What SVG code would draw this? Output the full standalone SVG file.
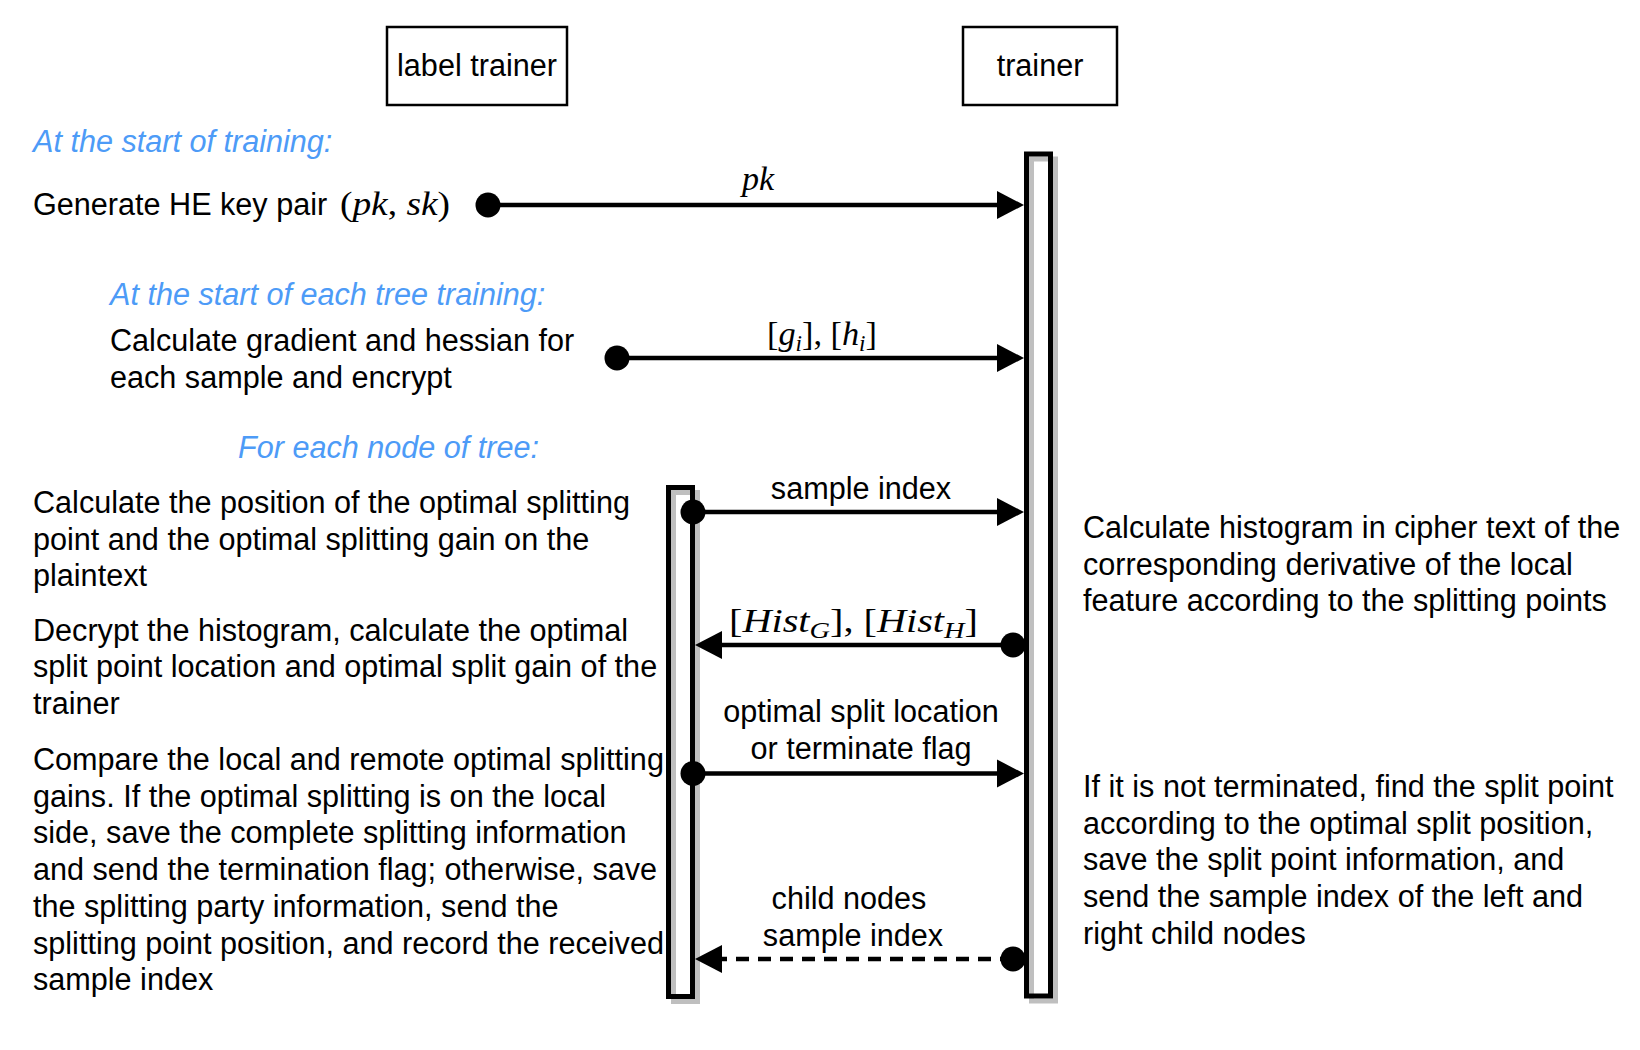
<svg xmlns="http://www.w3.org/2000/svg" width="1640" height="1050" viewBox="0 0 1640 1050">
<style>
  .t { font-family: "Liberation Sans", Arial, sans-serif; font-size: 30.6px; fill: #000; }
  .blue { font-family: "Liberation Sans", Arial, sans-serif; font-size: 30.6px; fill: #4D9BF7; font-style: italic; }
  .m { font-family: "Liberation Serif", "Times New Roman", serif; font-size: 34px; fill: #000; }
  .mi { font-style: italic; }
  .actor { fill: #fff; stroke: #000; stroke-width: 2.5; }
  .act { fill: none; stroke: #000; stroke-width: 5; }
  .shadow { fill: none; stroke: #bfbfbf; stroke-width: 5; }
  .msg { stroke: #000; stroke-width: 4.5; fill: none; marker-start: url(#dot); marker-end: url(#arrow); }
  .dash { stroke-dasharray: 13 9; }
</style>
<defs>
  <marker id="arrow" markerUnits="userSpaceOnUse" markerWidth="30" markerHeight="30" viewBox="0 0 30 30" refX="2" refY="15" orient="auto" overflow="visible">
    <path d="M0,1 L27,15 L0,29 z" fill="#000"/>
  </marker>
  <marker id="dot" markerUnits="userSpaceOnUse" markerWidth="26" markerHeight="26" viewBox="0 0 26 26" refX="13" refY="13" orient="auto" overflow="visible">
    <circle cx="13" cy="13" r="12.5" fill="#000"/>
  </marker>
</defs>
<rect width="1640" height="1050" fill="#fff"/>

<g id="actor-label-trainer">
  <rect class="actor" x="387" y="27" width="180" height="78"/>
  <text class="t" x="477" y="76" text-anchor="middle">label trainer</text>
</g>
<g id="actor-trainer">
  <rect class="actor" x="963" y="27" width="154" height="78"/>
  <text class="t" x="1040" y="76" text-anchor="middle">trainer</text>
</g>

<g id="lifeline-trainer">
  <rect class="shadow" x="1031.5" y="159" width="24" height="842"/>
  <rect class="act" x="1026.5" y="154" width="24" height="842"/>
</g>
<g id="lifeline-label-trainer">
  <rect class="shadow" x="673.5" y="492.5" width="24" height="509"/>
  <rect class="act" x="668.5" y="487.5" width="24" height="509"/>
</g>

<g id="notes-left">
  <text class="blue" x="33" y="152">At the start of training:</text>
  <text class="t" x="33" y="215">Generate HE key pair</text>
  <text class="m" x="340" y="215" font-size="37" textLength="110" lengthAdjust="spacingAndGlyphs">(<tspan class="mi">pk</tspan>, <tspan class="mi">sk</tspan>)</text>
  <text class="blue" x="110" y="305">At the start of each tree training:</text>
  <text class="t" x="110" y="351">Calculate gradient and hessian for</text>
  <text class="t" x="110" y="388">each sample and encrypt</text>
  <text class="blue" x="238" y="458">For each node of tree:</text>
  <text class="t" x="33" y="513">Calculate the position of the optimal splitting</text>
  <text class="t" x="33" y="549.7">point and the optimal splitting gain on the</text>
  <text class="t" x="33" y="586.4">plaintext</text>
  <text class="t" x="33" y="640.7">Decrypt the histogram, calculate the optimal</text>
  <text class="t" x="33" y="677.4">split point location and optimal split gain of the</text>
  <text class="t" x="33" y="714">trainer</text>
  <text class="t" x="33" y="770">Compare the local and remote optimal splitting</text>
  <text class="t" x="33" y="806.7">gains. If the optimal splitting is on the local</text>
  <text class="t" x="33" y="843.4">side, save the complete splitting information</text>
  <text class="t" x="33" y="880.1">and send the termination flag; otherwise, save</text>
  <text class="t" x="33" y="916.8">the splitting party information, send the</text>
  <text class="t" x="33" y="953.5">splitting point position, and record the received</text>
  <text class="t" x="33" y="990.2">sample index</text>
</g>

<g id="notes-right">
  <text class="t" x="1083" y="538">Calculate histogram in cipher text of the</text>
  <text class="t" x="1083" y="574.7">corresponding derivative of the local</text>
  <text class="t" x="1083" y="611.4">feature according to the splitting points</text>
  <text class="t" x="1083" y="797">If it is not terminated, find the split point</text>
  <text class="t" x="1083" y="833.7">according to the optimal split position,</text>
  <text class="t" x="1083" y="870.4">save the split point information, and</text>
  <text class="t" x="1083" y="907.1">send the sample index of the left and</text>
  <text class="t" x="1083" y="943.8">right child nodes</text>
</g>

<g id="connectors">
  <line class="msg" x1="488" y1="205" x2="999" y2="205"/>
  <line class="msg" x1="617" y1="358" x2="999" y2="358"/>
  <line class="msg" x1="693" y1="512" x2="999" y2="512"/>
  <line class="msg" x1="1013" y1="645" x2="720" y2="645"/>
  <line class="msg" x1="693" y1="773.5" x2="999" y2="773.5"/>
  <line class="msg dash" x1="1013" y1="959" x2="720" y2="959"/>
</g>

<g id="connector-labels">
  <text class="m mi" x="758" y="190" text-anchor="middle" font-size="37">pk</text>
  <text class="m" x="767" y="345" textLength="110" lengthAdjust="spacingAndGlyphs">[<tspan class="mi">g</tspan><tspan class="mi" font-size="23" dy="6">i</tspan><tspan dy="-6">], [</tspan><tspan class="mi">h</tspan><tspan class="mi" font-size="23" dy="6">i</tspan><tspan dy="-6">]</tspan></text>
  <text class="t" x="861" y="499" text-anchor="middle">sample index</text>
  <text class="m" x="729" y="632" textLength="249" lengthAdjust="spacingAndGlyphs">[<tspan class="mi">Hist</tspan><tspan class="mi" font-size="24" dy="6">G</tspan><tspan dy="-6">], [</tspan><tspan class="mi">Hist</tspan><tspan class="mi" font-size="24" dy="6">H</tspan><tspan dy="-6">]</tspan></text>
  <text class="t" x="861" y="722" text-anchor="middle">optimal split location</text>
  <text class="t" x="861" y="759" text-anchor="middle">or terminate flag</text>
  <text class="t" x="849" y="909" text-anchor="middle">child nodes</text>
  <text class="t" x="853" y="946" text-anchor="middle">sample index</text>
</g>
</svg>
